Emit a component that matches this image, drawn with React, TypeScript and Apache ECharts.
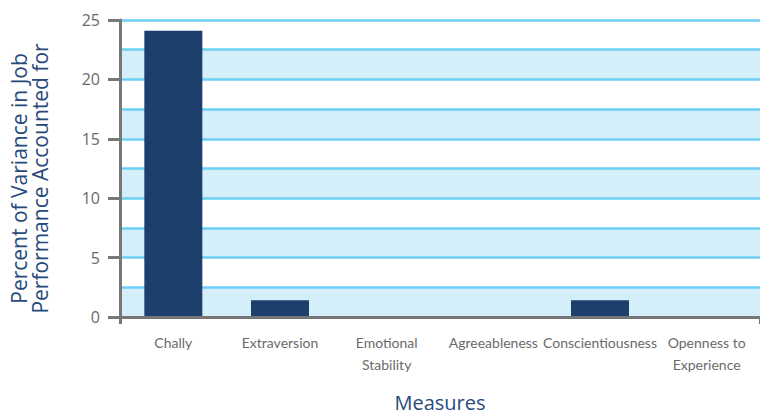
import React, { useEffect, useRef } from "react";
import * as echarts from "echarts";

const categories = [
  "Chally",
  "Extraversion",
  "Emotional\nStability",
  "Agreeableness",
  "Conscientiousness",
  "Openness to\nExperience",
];
const variancePercent = [24.1, 1.4, 0, 0, 1.4, 0];
const yMin = 0;
const yMax = 25;
const gridStep = 2.5;
const labelStep = 5;

const FONT = "'Open Sans', 'Noto Sans', sans-serif";
const LABEL_FONT = "Lato, 'Open Sans', sans-serif";

export default function App() {
  const ref = useRef<HTMLDivElement>(null);
  useEffect(() => {
    const chart = echarts.init(ref.current!, null, { renderer: "svg" });
    chart.setOption({
      animation: false,
      grid: {
        left: 120,
        right: 0,
        top: 20,
        height: 297,
        containLabel: false,
        outerBoundsMode: "none",
      },
      xAxis: {
        type: "category",
        data: categories,
        name: "Measures",
        nameLocation: "middle",
        nameGap: 75,
        nameTextStyle: { color: "#274a7b", fontSize: 20, fontFamily: FONT },
        axisLine: { show: true, lineStyle: { color: "#777777", width: 3 } },
        axisTick: {
          show: true,
          length: 7,
          interval: (i: number) => i === 0,
          lineStyle: { color: "#777777", width: 3 },
        },
        axisLabel: {
          color: "#6a6a6a",
          fontSize: 14,
          fontFamily: LABEL_FONT,
          margin: 14,
          lineHeight: 22,
          interval: 0,
        },
        splitLine: { show: false },
        z: 5,
      },
      yAxis: [
        {
          type: "value",
          min: yMin,
          max: yMax,
          interval: gridStep,
          axisLine: { show: false },
          axisTick: { show: false },
          axisLabel: { show: false },
          splitLine: { show: true, lineStyle: { color: "#6dcff6", width: 2.5 } },
          splitArea: { show: true, areaStyle: { color: ["#d4eefa", "#ffffff"] } },
        },
        {
          type: "value",
          min: yMin,
          max: yMax,
          interval: labelStep,
          position: "left",
          name: "Percent of Variance in Job\nPerformance Accounted for",
          nameLocation: "middle",
          nameGap: 70,
          nameTextStyle: {
            color: "#274a7b",
            fontSize: 21,
            fontFamily: FONT,
            lineHeight: 21,
            padding: [0, 20, 0, 0],
          },
          axisLine: { show: true, lineStyle: { color: "#777777", width: 3 } },
          axisTick: { show: true, length: 12, lineStyle: { color: "#777777", width: 3 } },
          axisLabel: { color: "#6a6a6a", fontSize: 16, fontFamily: FONT, margin: 20 },
          splitLine: { show: false },
          z: 6,
        },
      ],
      series: [
        {
          type: "bar",
          data: variancePercent,
          yAxisIndex: 0,
          barWidth: 58,
          itemStyle: { color: "#1d3f6b" },
          z: 3,
        },
      ],
    });
    return () => chart.dispose();
  }, []);
  return (
    <div
      ref={ref}
      style={{ position: "absolute", left: 0, top: 0, width: 760, height: 415 }}
    />
  );
}
